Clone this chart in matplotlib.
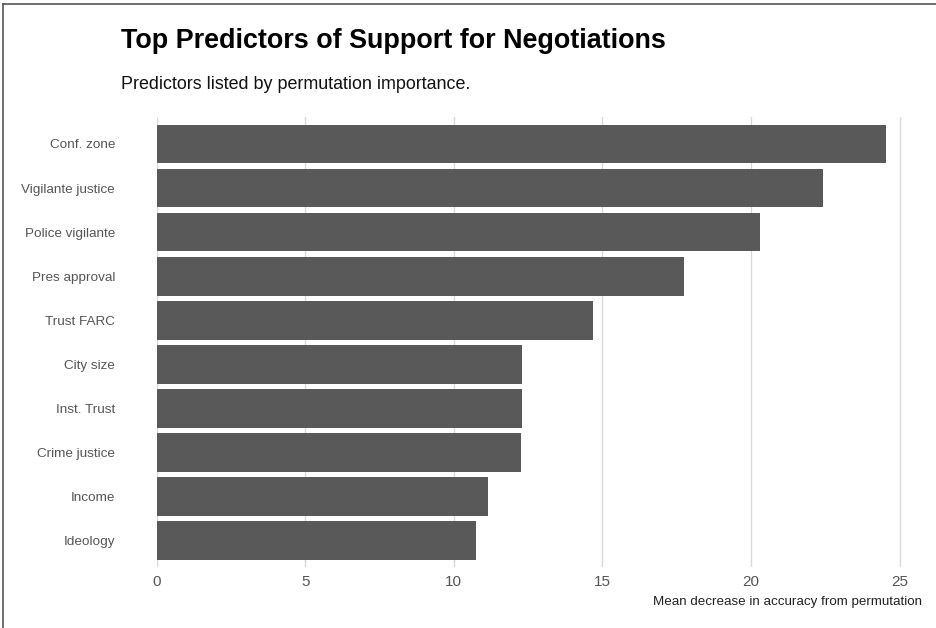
import matplotlib
matplotlib.use("Agg")
import matplotlib.pyplot as plt
from matplotlib.lines import Line2D

predictors = ["Conf. zone", "Vigilante justice", "Police vigilante", "Pres approval",
              "Trust FARC", "City size", "Inst. Trust", "Crime justice", "Income", "Ideology"]
importance = [24.53, 22.44, 20.32, 17.75, 14.70, 12.30, 12.30, 12.27, 11.15, 10.75]
xticks = [0, 5, 10, 15, 20, 25]

plt.rcParams['font.family'] = ['Liberation Sans', 'DejaVu Sans']

fig = plt.figure(figsize=(9.36, 6.28), dpi=100)
ax = fig.add_axes([156.6/936, 1-567/628, (907-156.6)/936, (567-117.5)/628])

ypos = list(range(len(predictors)))
ax.barh(ypos, importance, height=0.88, color='#595959', zorder=2)
ax.set_ylim(len(predictors)-0.4, -0.6)
ax.set_xlim(0, 25.25)
ax.set_xticks(xticks)
ax.set_xticklabels([str(t) for t in xticks])
ax.set_yticks(ypos)
ax.set_yticklabels(predictors)
ax.grid(axis='x', color='#d9d9d9', linewidth=1.0, zorder=0)
ax.grid(axis='y', visible=False)
for s in ax.spines.values():
    s.set_visible(False)
ax.tick_params(axis='both', length=0, colors='#555555', labelsize=9.7)
ax.tick_params(axis='y', pad=30)
ax.tick_params(axis='x', labelsize=11, pad=6)

fig.text(922/936, 1-605/628, "Mean decrease in accuracy from permutation",
         ha='right', va='baseline', fontsize=9.6, color='#222222')
fig.text(121/936, 1-47.7/628, "Top Predictors of Support for Negotiations",
         ha='left', va='baseline', fontsize=19.4, fontweight='bold', color='black')
fig.text(121/936, 1-89/628, "Predictors listed by permutation importance.",
         ha='left', va='baseline', fontsize=12.9, color='#111111')

fig.add_artist(Line2D([3/936, 3/936], [0, 1-4/628], transform=fig.transFigure, color='#555555', linewidth=1.2))
fig.add_artist(Line2D([3/936, 1], [1-4/628, 1-4/628], transform=fig.transFigure, color='#555555', linewidth=1.2))

fig.savefig("out.png", dpi=100)
